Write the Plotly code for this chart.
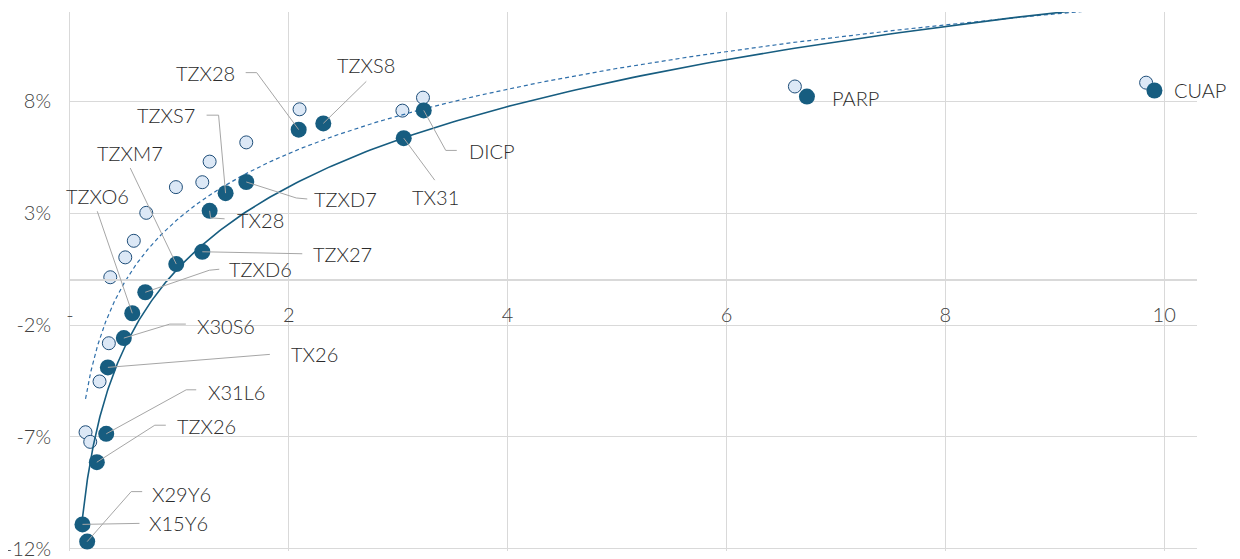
import numpy as np
import plotly.graph_objects as go

# ---------------- data ----------------
labels = ["TZX28", "TZXS8", "TZXS7", "TZXD7", "TX28", "TZX27", "TZXM7", "TZXD6",
          "TZXO6", "X30S6", "TX26", "X31L6", "TZX26", "X15Y6", "X29Y6", "TX31",
          "DICP", "PARP", "CUAP"]
dark_x = [2.09, 2.315, 1.422, 1.611, 1.276, 1.209, 0.971, 0.688,
          0.569, 0.492, 0.346, 0.331, 0.245, 0.114, 0.157, 3.050,
          3.233, 6.735, 9.911]
dark_y = [6.74, 7.02, 3.90, 4.40, 3.11, 1.28, 0.73, -0.53,
          -1.47, -2.58, -3.89, -6.86, -8.13, -10.91, -11.68, 6.36,
          7.60, 8.22, 8.49]

light_x = [2.098, 1.611, 1.276, 1.209, 0.968, 0.697, 0.583, 0.505, 0.368,
           0.355, 0.270, 0.142, 0.185, 3.038, 3.226, 6.625, 9.835]
light_y = [7.65, 6.17, 5.31, 4.39, 4.17, 3.02, 1.77, 1.03, 0.14,
           -2.81, -4.52, -6.79, -7.22, 7.59, 8.17, 8.67, 8.84]

x_tickvals = [0, 2, 4, 6, 8, 10]
x_ticktext = ["-", "2", "4", "6", "8", "10"]
y_tickvals = [-12, -7, -2, 3, 8]
y_ticktext = ["-12%", "-7%", "-2%", "3%", "8%"]

# ---------------- styles / layout positions ----------------
DARK = "#175d80"
LIGHT_FILL = "#dce8f6"
LIGHT_LINE = "#1f4e79"
DASH_COL = "#2f6faa"
GRID = "#d9d9d9"
LEADER = "#a6a6a6"
TXT = "#2b2b2b"
FONT = "Lato"
FSIZE = 20
Y_RANGE = [-12.1, 12]
X_RANGE = [0, 10.3]

# label placement: (anchor, dx, dy) in screen pixels from the point, leader path
label_pos = {
    "TZX28": ("right", -62, -57, [(-53, -57), (-42, -57), (0, 0)]),
    "TZXS8": ("center", 43, -58, [(43, -42), (0, 0)]),
    "TZXS7": ("right", -29, -78, [(-19, -78), (-7, -78), (0, 0)]),
    "TZXD7": ("left", 66, 17, [(0, 0), (50, 16), (61, 17)]),
    "TX28": ("left", 25, 9, [(0, 0), (1, 7), (15, 8)]),
    "TZX27": ("left", 109, 2, [(0, 0), (100, 2)]),
    "TZXM7": ("center", -46, -111, [(-46, -96), (0, 0)]),
    "TZXD6": ("left", 82, -23, [(0, 0), (64, -22), (74, -23)]),
    "TZXO6": ("center", -35, -117, [(-35, -102), (0, 0)]),
    "X30S6": ("left", 71, -12, [(0, 0), (46, -14), (62, -14)]),
    "TX26": ("left", 181, -13, [(0, 0), (162, -13)]),
    "X31L6": ("left", 100, -42, [(0, 0), (80, -44), (90, -44)]),
    "TZX26": ("left", 78, -36, [(0, 0), (58, -37), (69, -37)]),
    "X15Y6": ("left", 65, -1, [(0, 0), (57, -1)]),
    "X29Y6": ("left", 63, -48, [(0, 0), (44, -50), (55, -50)]),
    "TX31": ("center", 32, 59, [(0, 0), (31, 42)]),
    "DICP": ("left", 43, 41, [(0, 0), (22, 40), (33, 40)]),
    "PARP": ("left", 23, 1, None),
    "CUAP": ("left", 18, -1, None),
}


def log_trend(xs, ys):
    xs = np.asarray(xs, float)
    ys = np.asarray(ys, float)
    b, a = np.polyfit(np.log(xs), ys, 1)
    xx = np.exp(np.linspace(np.log(xs.min()), np.log(xs.max()), 300))
    return xx, a + b * np.log(xx)


fig = go.Figure()

# light markers (behind)
fig.add_trace(go.Scatter(
    x=light_x, y=light_y, mode="markers",
    marker=dict(size=13, color=LIGHT_FILL, line=dict(color=LIGHT_LINE, width=1)),
    showlegend=False, hoverinfo="skip"))

# trend lines (logarithmic fits of each series)
tx, ty = log_trend(light_x, light_y)
fig.add_trace(go.Scatter(x=tx, y=ty, mode="lines",
                         line=dict(color=DASH_COL, width=1.2, dash="4px,3px"),
                         showlegend=False, hoverinfo="skip"))
tx, ty = log_trend(dark_x, dark_y)
fig.add_trace(go.Scatter(x=tx, y=ty, mode="lines",
                         line=dict(color=DARK, width=1.6),
                         showlegend=False, hoverinfo="skip"))

# dark markers
fig.add_trace(go.Scatter(
    x=dark_x, y=dark_y, mode="markers",
    marker=dict(size=16, color=DARK, line=dict(width=0)),
    text=labels, showlegend=False, hoverinfo="text"))

annotations = []
shapes = []
for lab, xv, yv in zip(labels, dark_x, dark_y):
    anchor, dx, dy, path = label_pos[lab]
    annotations.append(dict(
        x=xv, y=yv, xref="x", yref="y", text=lab, showarrow=False,
        xanchor=anchor, yanchor="middle", xshift=dx, yshift=-dy,
        font=dict(family=FONT, size=FSIZE, color=TXT, weight=300)))
    if path:
        p = "M " + " L ".join(f"{px},{-py}" for px, py in path)
        shapes.append(dict(
            type="path", xref="x", yref="y", xsizemode="pixel", ysizemode="pixel",
            xanchor=xv, yanchor=yv, path=p, layer="above",
            line=dict(color=LEADER, width=1)))

# x axis crosses at y = 0
x_axis_pos = (0 - Y_RANGE[0]) / (Y_RANGE[1] - Y_RANGE[0])

# the page body adds an 8px offset, so the figure is 8px smaller than the window
fig.update_layout(
    width=1232, height=551,
    margin=dict(l=62, r=43, t=4, b=8, autoexpand=False),
    paper_bgcolor="white", plot_bgcolor="white",
    annotations=annotations, shapes=shapes,
    font=dict(family=FONT, color="#404040", size=FSIZE),
    xaxis=dict(range=X_RANGE, tickvals=x_tickvals, ticktext=x_ticktext,
               showgrid=True, gridcolor=GRID, gridwidth=1, zeroline=False,
               anchor="free", position=x_axis_pos, showline=True, linecolor=GRID,
               linewidth=2, ticks="", ticklabelstandoff=17, automargin=False,
               tickfont=dict(family=FONT, size=FSIZE, color="#404040", weight=300)),
    yaxis=dict(range=Y_RANGE, tickvals=y_tickvals, ticktext=y_ticktext,
               showgrid=True, gridcolor=GRID, gridwidth=1, zeroline=False,
               showline=True, linecolor=GRID, linewidth=1, ticks="",
               ticklabelstandoff=14, automargin=False, ticklabeloverflow="allow",
               tickfont=dict(family=FONT, size=FSIZE, color="#404040", weight=300)),
)

fig.write_html("out.html")
